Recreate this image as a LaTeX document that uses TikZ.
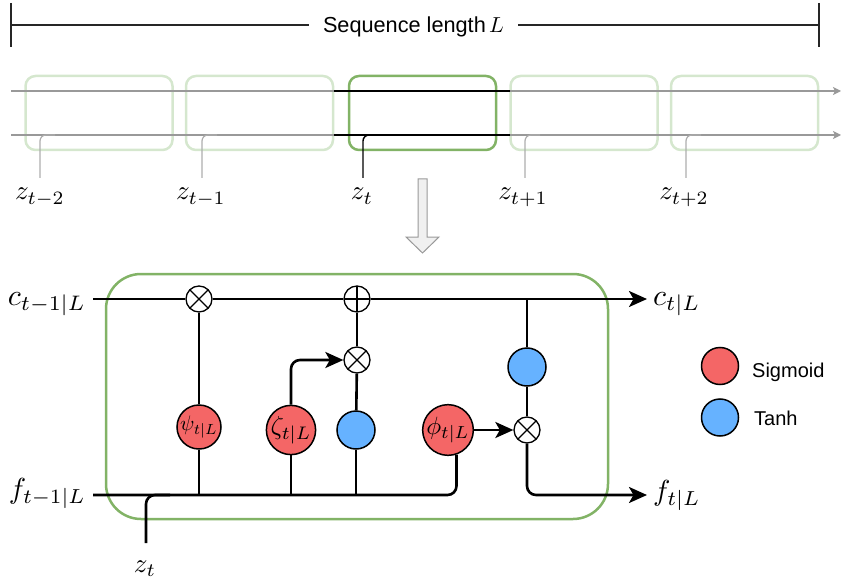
\documentclass[tikz,border=0pt]{standalone}
\usepackage{graphicx}
\usepackage{fontspec}
\newfontfamily\sansf{Liberation Sans}
\usetikzlibrary{arrows.meta}
\newcommand{\msc}[2]{\scalebox{#1}{$#2$}}
\definecolor{grn}{HTML}{82B366}
\definecolor{lgrn}{HTML}{D5E7CE}
\definecolor{sigred}{HTML}{F46666}
\definecolor{tanhblue}{HTML}{66B2FF}
\definecolor{lgray}{HTML}{999999}
\definecolor{arrfill}{HTML}{F0F0F0}
\begin{document}
\begin{tikzpicture}[x=1pt,y=-1pt,
  wire/.style={line width=2.6pt,black},
  arr/.style={-{Stealth[length=18pt,width=16pt,inset=4.5pt]}},
  opx/.style={circle,draw,fill=white,minimum size=26pt,inner sep=0pt,line width=1.3pt,
    path picture={\draw[line width=1.3pt] (path picture bounding box.center) ++(45:13pt) -- ++(225:26pt);
                  \draw[line width=1.3pt] (path picture bounding box.center) ++(135:13pt) -- ++(-45:26pt);}},
  oplus/.style={circle,draw,fill=white,minimum size=26pt,inner sep=0pt,line width=1.3pt,
    path picture={\draw[line width=1.3pt] (path picture bounding box.north) -- (path picture bounding box.south);
                  \draw[line width=1.3pt] (path picture bounding box.west) -- (path picture bounding box.east);}},
  sig/.style={circle,draw,fill=sigred,minimum size=44pt,inner sep=0pt,line width=1.5pt},
  tanhc/.style={circle,draw,fill=tanhblue,minimum size=38pt,inner sep=0pt,line width=1.5pt},
  lbox/.style={draw=lgrn,line width=2.5pt,rounded corners=10pt,minimum width=147pt,minimum height=74pt},
  cbox/.style={draw=grn,line width=2.5pt,rounded corners=10pt,minimum width=147pt,minimum height=74pt},
  gline/.style={draw=lgray,line width=1.3pt},
  garr/.style={-{Stealth[length=8pt,width=8pt,inset=2pt]}},
  dline/.style={draw=black,line width=1.4pt},
  hook/.style={draw=lgray!80,line width=1.2pt,rounded corners=6pt},
  zl/.style={anchor=base,inner sep=0pt},
  bigl/.style={inner sep=0pt},
  legt/.style={anchor=base west,inner sep=0pt,font=\sansf\fontsize{20}{24}\selectfont}
]
\useasboundingbox (0,0) rectangle (841,583);

% ---------- top: sequence length ----------
\node[inner xsep=14pt,inner ysep=2pt] (seq) at (413.5,27) {{\sansf\fontsize{21.7}{26}\selectfont Sequence length} \msc{2.17}{L}};
\coordinate (tl) at (11,25);
\coordinate (tr) at (819,25);
\coordinate (tlt) at (11,3);
\coordinate (tlb) at (11,47);
\coordinate (trt) at (819,3);
\coordinate (trb) at (819,47);
\draw[line width=1.3pt,black!85] (tl) -- (tl -| seq.west);
\draw[line width=1.3pt,black!85] (tr -| seq.east) -- (tr);
\draw[line width=1.3pt,black!85] (tlt) -- (tlb);
\draw[line width=1.3pt,black!85] (trt) -- (trb);

% ---------- cells ----------
\node[lbox] (b1) at (99,113) {};
\node[lbox] (b2) at (259.5,113) {};
\node[cbox] (b3) at (422.5,113) {};
\node[lbox] (b4) at (584,113) {};
\node[lbox] (b5) at (744.5,113) {};

\coordinate (u0) at (11,91);
\coordinate (u1) at (841,91);
\coordinate (l0) at (11,135);
\coordinate (l1) at (841,135);
\draw[gline,garr] (u0) -- (u1);
\draw[gline,garr] (l0) -- (l1);
\coordinate (du0) at (334,91);
\coordinate (du1) at (510,91);
\coordinate (dl0) at (334,135);
\coordinate (dl1) at (510,135);
\draw[dline] (du0) -- (du1);
\draw[dline] (dl0) -- (dl1);

% hooks and inputs
\coordinate (h1a) at (40,178);   \coordinate (h1b) at (55,135);
\coordinate (h2a) at (202,178);  \coordinate (h2b) at (217,135);
\coordinate (h3a) at (363,178);  \coordinate (h3b) at (376,135);
\coordinate (h4a) at (525,178);  \coordinate (h4b) at (540,135);
\coordinate (h5a) at (686,178);  \coordinate (h5b) at (701,135);
\draw[hook] (h1a) |- (h1b);
\draw[hook] (h2a) |- (h2b);
\draw[hook,draw=black,line width=1.4pt] (h3a) |- (h3b);
\draw[hook] (h4a) |- (h4b);
\draw[hook] (h5a) |- (h5b);

\node[zl] (z1) at (40,200) {\msc{2.7}{z_{t-2}}};
\node[zl] (z2) at (201,200) {\msc{2.7}{z_{t-1}}};
\node[zl] (z3) at (362,200) {\msc{2.7}{z_{t}}};
\node[zl] (z4) at (523,200) {\msc{2.7}{z_{t+1}}};
\node[zl] (z5) at (684,200) {\msc{2.7}{z_{t+2}}};

% down arrow
\draw[fill=arrfill,draw=lgray,line width=1pt,line join=miter]
  (418,179) -- (427,179) -- (427,237) -- (439,237) -- (422.5,253) -- (406,237) -- (418,237) -- cycle;

% ---------- LSTM-like cell ----------
\node[draw=grn,line width=2.5pt,rounded corners=35pt,minimum width=502pt,minimum height=245pt] (cell) at (357,396.5) {};

\node[opx] (m1) at (199,299) {};
\node[oplus] (p1) at (357,299) {};
\node[opx] (m2) at (357,360) {};
\node[sig] (psi) at (199,427) {\msc{2.1}{\psi_{t|L}}};
\node[sig] (zeta) at (291,430) {\msc{2.6}{\zeta_{t|L}}};
\node[tanhc] (th1) at (356,430) {};
\node[sig] (phi) at (448,430) {\msc{2.5}{\phi_{t|L}}};
\node[opx] (m3) at (527,430) {};
\node[tanhc] (th2) at (527,367) {};

\coordinate (cin) at (93,299);
\coordinate (cout) at (647,299);
\coordinate (fin) at (93,495);
\coordinate (fout) at (647,495);
\coordinate (zin) at (146,543);
\coordinate (zj) at (170,495);
\coordinate (cj) at (527,299);

\draw[wire] (cin) -- (m1);
\draw[wire] (m1) -- (p1);
\draw[wire,arr] (p1) -- (cout);
\draw[wire] (m1) -- (psi);
\draw[wire] (psi) -- (psi |- fin);
\draw[wire,rounded corners=9pt] (fin) -| (phi.-71);
\draw[wire,rounded corners=9pt] (zin) |- (zj);
\draw[wire,arr,rounded corners=9pt] (zeta) |- (m2);
\draw[wire] (zeta) -- (zeta |- fin);
\draw[wire] (m2) -- (p1);
\draw[wire] (m2) -- (th1);
\draw[wire] (th1) -- (th1 |- fin);
\draw[wire] (th2) -- (cj);
\draw[wire] (th2) -- (m3);
\draw[wire,arr] (phi) -- (m3);
\draw[wire,arr,rounded corners=9pt] (m3) |- (fout);

\node[bigl,anchor=base east] (cl) at (86,305) {\msc{3}{c_{t-1|L}}};
\node[bigl,anchor=base east] (fl) at (86,498) {\msc{2.9}{f_{t-1|L}}};
\node[bigl,anchor=base west] (cr) at (653,305) {\msc{3}{c_{t|L}}};
\node[bigl,anchor=base west] (fr) at (653,500) {\msc{2.9}{f_{t|L}}};
\node[zl] (zb) at (145,572) {\msc{2.7}{z_t}};

% legend
\node[sig,minimum size=37pt] (lsig) at (720,366) {};
\node[tanhc,minimum size=37pt] (ltanh) at (720,417.5) {};
\node[legt] (tsig) at (752,377) {Sigmoid};
\node[legt] (ttanh) at (754,425) {Tanh};
\end{tikzpicture}
\end{document}
